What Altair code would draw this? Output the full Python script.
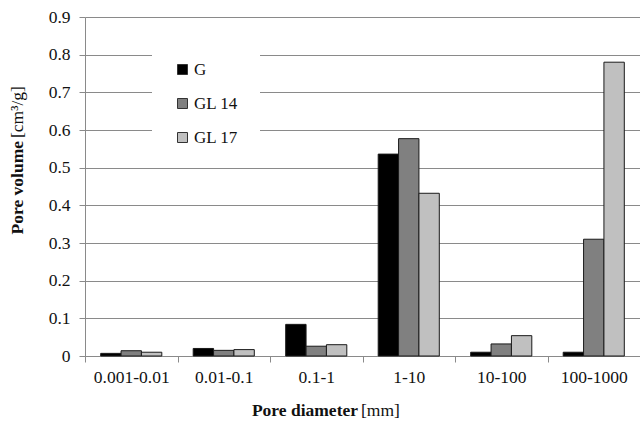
import altair as alt
import pandas as pd

categories = ["0.001-0.01", "0.01-0.1", "0.1-1", "1-10", "10-100", "100-1000"]
series = ["G", "GL 14", "GL 17"]
g_vals = [0.007, 0.020, 0.084, 0.536, 0.010, 0.010]
gl14_vals = [0.014, 0.015, 0.026, 0.577, 0.032, 0.310]
gl17_vals = [0.010, 0.017, 0.030, 0.432, 0.054, 0.780]
colors = ["#000000", "#808080", "#c0c0c0"]
y_ticks = [0, 0.1, 0.2, 0.3, 0.4, 0.5, 0.6, 0.7, 0.8, 0.9]

rows = []
for s, vals in zip(series, [g_vals, gl14_vals, gl17_vals]):
    for c, v in zip(categories, vals):
        rows.append({"cat": c, "series": s, "value": v})
df = pd.DataFrame(rows)

FONT = "Liberation Serif"
GRID = "#8a8a8a"
FS = 17.5

bars = alt.Chart(df).mark_bar(stroke="#1a1a1a", strokeWidth=1).encode(
    x=alt.X("cat:N", sort=categories,
            scale=alt.Scale(paddingInner=0, paddingOuter=0),
            axis=alt.Axis(title=None, labelAngle=0, labelPadding=6, tickBand="extent",
                          tickSize=6, tickColor=GRID, domainColor=GRID, grid=False)),
    xOffset=alt.XOffset("series:N", sort=series,
                        scale=alt.Scale(paddingInner=0, paddingOuter=0.77)),
    y=alt.Y("value:Q", scale=alt.Scale(domain=[0, 0.9], nice=False),
            axis=alt.Axis(title=None, values=y_ticks, format="~g", labelPadding=9,
                          tickSize=6, tickColor=GRID, gridColor=GRID,
                          domainColor=GRID)),
    fill=alt.Fill("series:N", sort=series,
                  scale=alt.Scale(domain=series, range=colors),
                  legend=alt.Legend(title=None, orient="none", legendX=67, legendY=22,
                                    fillColor="white", padding=22, symbolType="square",
                                    symbolSize=100, symbolStrokeColor="#333",
                                    symbolStrokeWidth=1,
                                    rowPadding=16, labelOffset=3)),
)

title_df = pd.DataFrame({"t": [0]})
ybold = alt.Chart(title_df).mark_text(text="Pore volume", font=FONT, fontSize=FS,
                                      fontWeight="bold", angle=270, align="right",
                                      baseline="middle", color="#111").encode(
    x=alt.value(-67), y=alt.value(124))
ynorm = alt.Chart(title_df).mark_text(text="[cm³/g]", font=FONT, fontSize=FS,
                                      angle=270, align="left",
                                      baseline="middle", color="#111").encode(
    x=alt.value(-67), y=alt.value(121))
xbold = alt.Chart(title_df).mark_text(text="Pore diameter", font=FONT, fontSize=FS,
                                      fontWeight="bold", align="right",
                                      baseline="middle", color="#111").encode(
    x=alt.value(273), y=alt.value(394))
xnorm = alt.Chart(title_df).mark_text(text="[mm]", font=FONT, fontSize=FS,
                                      align="left", baseline="middle", color="#111").encode(
    x=alt.value(276), y=alt.value(394))

chart = alt.layer(bars, ybold, ynorm, xbold, xnorm).properties(
    width=555, height=339,
    autosize=alt.AutoSizeParams(type="none"),
    padding={"left": 85, "top": 17, "right": 0, "bottom": 65},
    background="white",
).configure(font=FONT).configure_axis(
    labelFont=FONT, labelFontSize=FS, labelColor="#111"
).configure_legend(
    labelFont=FONT, labelFontSize=17, labelColor="#111"
).configure_view(stroke=None)

chart.save("out.html", embed_options={"renderer": "svg", "actions": False})
